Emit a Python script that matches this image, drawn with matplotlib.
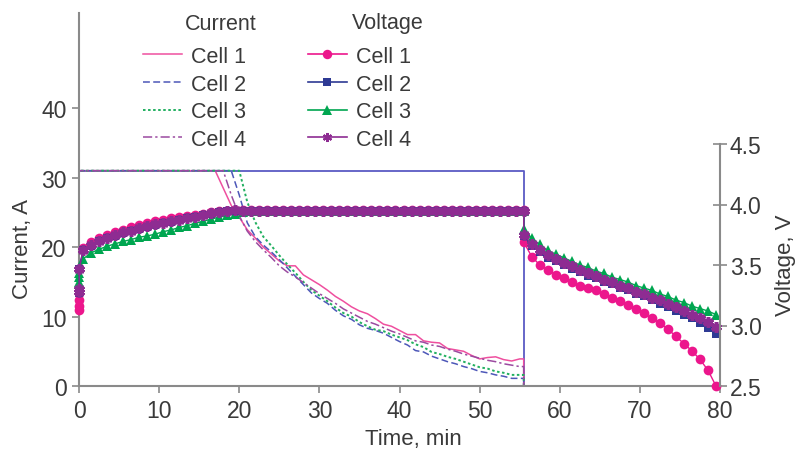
"""Cell current and voltage during a CC-CV charge and discharge test."""

import matplotlib

matplotlib.use("Agg")

from matplotlib import pyplot as plt  # noqa: E402
from matplotlib.lines import Line2D  # noqa: E402

plt.rcParams["font.family"] = ["Liberation Sans", "DejaVu Sans"]

CELLS = ["Cell 1", "Cell 2", "Cell 3", "Cell 4"]

# current, A: knots (time in min) for each cell
CUR_T_1 = [0, 0, 17] + list(range(18, 56)) + [55.5, 55.5]
CUR_I_1 = [0, 31, 31,
           28.5, 26.0, 24.3, 22.5, 21.3, 20.0, 19.0, 18.0, 17.3, 17.3,
           16.0, 15.3, 14.6, 13.8, 12.9, 12.2, 11.4, 10.8, 10.4, 9.7,
           8.9, 8.6, 8.0, 7.4, 7.4, 6.5, 6.3, 6.2, 5.4, 5.2,
           5.0, 4.4, 3.9, 4.1, 4.2, 3.8, 3.6, 3.9,
           3.9, 0]
CUR_T_2 = [0, 0, 19] + list(range(20, 56)) + [55.5, 55.5]
CUR_I_2 = [0, 31, 31,
           27.5, 23.5, 21.5, 20.3, 19.3, 18.2, 17.0, 15.8, 14.6, 13.4,
           12.6, 11.9, 10.9, 10.1, 9.6, 8.8, 8.3, 8.0, 7.6, 7.0,
           6.4, 5.9, 5.1, 4.9, 4.3, 3.9, 3.5, 3.2, 2.8, 2.5,
           2.1, 1.9, 1.6, 1.4, 1.1, 1.1,
           1.1, 0]
CUR_T_3 = [0, 0, 20] + list(range(21, 56)) + [55.5, 55.5]
CUR_I_3 = [0, 31, 31,
           26.5, 23.6, 21.5, 20.2, 18.8, 17.5, 16.3, 15.0, 13.8, 13.0,
           12.2, 11.3, 10.5, 10.0, 9.2, 8.6, 8.1, 7.9, 7.4, 7.0,
           6.6, 6.0, 5.6, 4.9, 4.6, 4.2, 3.9, 3.5, 3.1, 2.7,
           2.5, 2.1, 1.9, 1.6, 1.6,
           1.6, 0]
CUR_T_4 = [0, 0, 18] + list(range(19, 56)) + [55.5, 55.5]
CUR_I_4 = [0, 31, 31,
           27.5, 24.5, 22.3, 20.8, 19.6, 18.5, 17.3, 16.4, 15.7, 14.9,
           14.1, 13.3, 12.6, 11.9, 11.1, 10.5, 9.9, 9.3, 8.9, 8.4,
           7.9, 7.5, 7.0, 6.5, 6.3, 5.9, 5.7, 5.3, 5.0, 4.6,
           4.3, 4.0, 3.7, 3.5, 3.2, 3.0, 2.8,
           2.8, 0]

# charger current limit
LIMIT_T = [0, 55.5, 55.5]
LIMIT_I = [31, 31, 0]

# voltage, V: sampled times
V_T = ([0, 0.02, 0.04] + [m + 0.5 for m in range(56)]
       + [55.5 + m for m in range(25)])

V_1 = [3.13, 3.16, 3.21,
       3.64, 3.69, 3.72, 3.745, 3.77, 3.79, 3.81, 3.83, 3.845, 3.86,
       3.875, 3.885, 3.895, 3.905, 3.915, 3.925, 3.935, 3.945, 3.95,
       3.955, 3.955, 3.955, 3.955, 3.955, 3.955, 3.955, 3.955, 3.955, 3.955,
       3.955, 3.955, 3.955, 3.955, 3.955, 3.955, 3.955, 3.955, 3.955, 3.955,
       3.955, 3.955, 3.955, 3.955, 3.955, 3.955, 3.955, 3.955, 3.955, 3.955,
       3.955, 3.955, 3.955, 3.955, 3.955, 3.955, 3.955,
       3.69, 3.57, 3.50, 3.46, 3.42, 3.39, 3.36, 3.33, 3.31, 3.29,
       3.26, 3.23, 3.20, 3.17, 3.14, 3.10, 3.06, 3.02, 2.97, 2.91,
       2.85, 2.79, 2.72, 2.63, 2.50]
V_2 = [3.27, 3.29, 3.47,
       3.62, 3.66, 3.695, 3.72, 3.74, 3.765, 3.78, 3.80, 3.815, 3.83,
       3.845, 3.855, 3.87, 3.885, 3.895, 3.91, 3.925, 3.935, 3.945, 3.95,
       3.95, 3.95, 3.95, 3.95, 3.95, 3.95, 3.95, 3.95, 3.95, 3.95,
       3.95, 3.95, 3.95, 3.95, 3.95, 3.95, 3.95, 3.95, 3.95, 3.95,
       3.95, 3.95, 3.95, 3.95, 3.95, 3.95, 3.95, 3.95, 3.95, 3.95,
       3.95, 3.95, 3.95, 3.95, 3.95, 3.95,
       3.74, 3.66, 3.61, 3.56, 3.53, 3.50, 3.47, 3.44, 3.41, 3.39,
       3.36, 3.34, 3.31, 3.29, 3.26, 3.24, 3.21, 3.18, 3.15, 3.12,
       3.09, 3.06, 3.02, 2.98, 2.93]
V_3 = [3.36, 3.40, 3.43,
       3.55, 3.60, 3.63, 3.655, 3.675, 3.695, 3.71, 3.73, 3.74, 3.755,
       3.775, 3.79, 3.81, 3.825, 3.845, 3.86, 3.88, 3.895, 3.91, 3.925,
       3.94,
       3.945, 3.945, 3.945, 3.945, 3.945, 3.945, 3.945, 3.945, 3.945, 3.945,
       3.945, 3.945, 3.945, 3.945, 3.945, 3.945, 3.945, 3.945, 3.945, 3.945,
       3.945, 3.945, 3.945, 3.945, 3.945, 3.945, 3.945, 3.945, 3.945, 3.945,
       3.945, 3.945, 3.945, 3.945, 3.945,
       3.80, 3.72, 3.67, 3.62, 3.59, 3.56, 3.53, 3.50, 3.48, 3.45,
       3.43, 3.40, 3.38, 3.36, 3.33, 3.31, 3.29, 3.26, 3.24, 3.21,
       3.19, 3.16, 3.14, 3.12, 3.09]
V_4 = [3.28, 3.30, 3.47,
       3.625, 3.665, 3.70, 3.725, 3.745, 3.77, 3.785, 3.805, 3.82, 3.835,
       3.85, 3.86, 3.875, 3.89, 3.90, 3.915, 3.93, 3.94, 3.95, 3.955,
       3.95, 3.95, 3.95, 3.95, 3.95, 3.95, 3.95, 3.95, 3.95, 3.95,
       3.95, 3.95, 3.95, 3.95, 3.95, 3.95, 3.95, 3.95, 3.95, 3.95,
       3.95, 3.95, 3.95, 3.95, 3.95, 3.95, 3.95, 3.95, 3.95, 3.95,
       3.95, 3.95, 3.95, 3.95, 3.95, 3.95,
       3.75, 3.67, 3.62, 3.58, 3.55, 3.52, 3.49, 3.46, 3.43, 3.41,
       3.38, 3.36, 3.33, 3.31, 3.28, 3.26, 3.23, 3.21, 3.18, 3.15,
       3.12, 3.09, 3.06, 3.03, 2.99]

X_TICKS = [0, 10, 20, 30, 40, 50, 60, 70, 80]
I_TICKS = [0, 10, 20, 30, 40]
V_TICKS = [2.5, 3.0, 3.5, 4.0, 4.5]

TEXT = "#3a3a3a"
AXIS = "#8a8a8a"
FS_TICK = 16.5
FS_LABEL = 16
FS_LEGEND = 15.5

CUR_STYLE = [
    dict(color="#ef4f9f", linestyle="-", linewidth=1.1),
    dict(color="#4d57b8", linestyle=(0, (4.5, 2.2)), linewidth=1.1),
    dict(color="#22b060", linestyle=(0, (1.3, 1.3)), linewidth=1.4),
    dict(color="#9b4aa0", linestyle=(0, (6, 2, 1.5, 2)), linewidth=1.1),
]
VOLT_STYLE = [
    dict(color="#ec168c", marker="o", markersize=7.0, markeredgewidth=0),
    dict(color="#2e3a94", marker="s", markersize=6.2, markeredgewidth=0),
    dict(color="#00a650", marker="^", markersize=7.2, markeredgewidth=0),
    dict(color="#8e2c92", marker=(6, 2, 0), markersize=7.6, markeredgewidth=2.6),
]
LEGEND_MARKER = [
    dict(markersize=6.8, markeredgewidth=0),
    dict(markersize=6.0, markeredgewidth=0),
    dict(markersize=7.0, markeredgewidth=0),
    dict(markersize=6.5, markeredgewidth=1.5),
]

fig = plt.figure(figsize=(7.96, 4.52), dpi=100)
ax = fig.add_axes([79 / 796, 1 - 387 / 452, (720 - 79) / 796, (387 - 14) / 452])
ax2 = ax.twinx()

ax.plot(LIMIT_T, LIMIT_I, color="#5a5ac4", linewidth=1.3, zorder=1)
for t, i, style in zip([CUR_T_1, CUR_T_2, CUR_T_3, CUR_T_4],
                       [CUR_I_1, CUR_I_2, CUR_I_3, CUR_I_4], CUR_STYLE):
    ax.plot(t, i, zorder=2, **style)

for v, style in zip([V_1, V_3, V_2, V_4], [VOLT_STYLE[0], VOLT_STYLE[2], VOLT_STYLE[1], VOLT_STYLE[3]]):
    ax2.plot(V_T, v, linewidth=1.0, clip_on=False, **style)

ax.set_xlim(0, 80)
ax.set_ylim(0, 53.7)
ax2.set_ylim(2.5, 2.5 + 373 / 121)
ax.set_xticks(X_TICKS)
ax.set_yticks(I_TICKS)
ax2.set_yticks(V_TICKS)
ax2.set_yticklabels([f"{v:.1f}" for v in V_TICKS])

for name in ["top", "right"]:
    ax.spines[name].set_visible(False)
for name in ["top", "left", "bottom"]:
    ax2.spines[name].set_visible(False)
ax2.spines["right"].set_bounds(2.5, 4.5)
for spine in [ax.spines["left"], ax.spines["bottom"], ax2.spines["right"]]:
    spine.set_color(AXIS)
    spine.set_linewidth(1.5)

ax.tick_params(axis="both", direction="out", length=5, width=1.2, color=AXIS,
               labelsize=FS_TICK, labelcolor=TEXT, pad=4)
ax2.tick_params(axis="y", direction="inout", length=10, width=1.2, color=AXIS,
                labelsize=FS_TICK, labelcolor=TEXT, pad=2)

fig.text(23 / 796, 1 - 249 / 452, "Current, A", rotation=90, ha="center", va="center",
         fontsize=FS_LABEL, color=TEXT)
fig.text(413 / 796, 1 - 440 / 452, "Time, min", ha="center", va="center",
         fontsize=FS_LABEL, color=TEXT)
fig.text(785 / 796, 1 - 265 / 452, "Voltage, V", rotation=90, ha="center", va="center",
         fontsize=FS_LABEL, color=TEXT)

fig.text(221 / 796, 1 - 24 / 452, "Current", ha="center", va="center",
         fontsize=FS_LEGEND, color=TEXT)
fig.text(388 / 796, 1 - 24 / 452, "Voltage", ha="center", va="center",
         fontsize=FS_LEGEND, color=TEXT)

cur_handles = [Line2D([], [], **style) for style in CUR_STYLE]
volt_handles = [Line2D([], [], linewidth=1.2, **{**style, **marker})
                for style, marker in zip(VOLT_STYLE, LEGEND_MARKER)]
legend_kw = dict(frameon=False, fontsize=FS_LEGEND, labelcolor=TEXT, borderpad=0,
                 borderaxespad=0, handlelength=1.8, handletextpad=0.45, labelspacing=0.31,
                 loc="upper left")
fig.legend(cur_handles, CELLS, bbox_to_anchor=(143 / 796, 1 - 47 / 452), **legend_kw)
fig.legend(volt_handles, CELLS, bbox_to_anchor=(308 / 796, 1 - 47 / 452), **legend_kw)

fig.savefig("out.png", dpi=100)
